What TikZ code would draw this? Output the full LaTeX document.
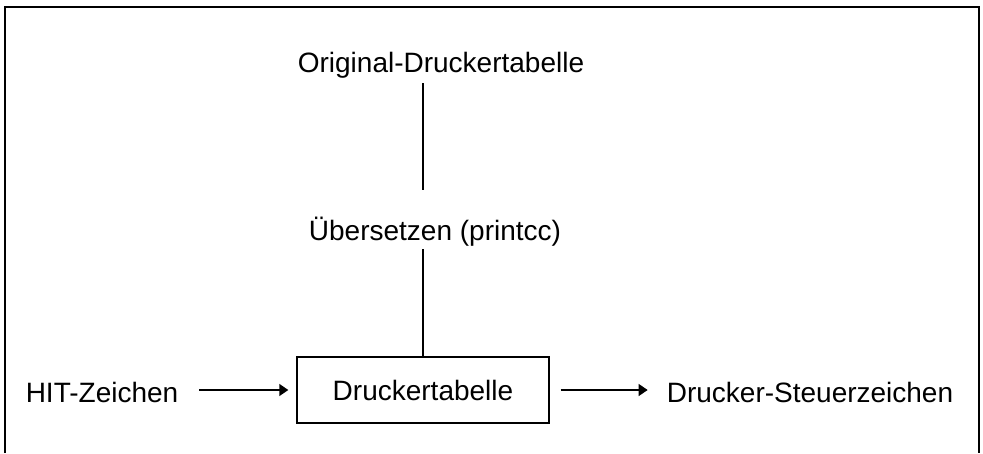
\documentclass[tikz,border=0pt]{standalone}
\usepackage{fontspec}
\setmainfont{Liberation Sans}
\usetikzlibrary{arrows.meta}

\tikzset{
    txt/.style={anchor=base, inner sep=3pt, text height=21pt, text depth=6pt,
        font=\fontsize{28}{34}\selectfont},
    kasten/.style={draw, line width=1.4pt, minimum width=252pt, minimum height=66pt,
        inner sep=0pt, text height=21pt, text depth=0pt, font=\fontsize{28}{34}\selectfont},
    pfeil/.style={line width=1.4pt, -{Triangle[length=9pt,width=12pt]}},
    linie/.style={line width=1.4pt}
}

\begin{document}
\begin{tikzpicture}[x=1pt,y=-1pt]
    \useasboundingbox (0,0) rectangle (983,453);

    % Rahmen (unten offen)
    \draw[line width=1.6pt] (5,453) -- (5,7) -- (979,7) -- (979,453);

    % Texte
    \node[txt] (orig) at (441,72) {Original-Druckertabelle};
    \node[txt] (ueber) at (435,240) {Übersetzen (printcc)};
    \node[kasten] (tab) at (423,390) {Druckertabelle};
    \node[txt] (hit) at (102,402) {HIT-Zeichen};
    \node[txt] (steuer) at (810,402) {Drucker-Steuerzeichen};

    % senkrechte Linien
    \draw[linie, shorten <=2pt, shorten >=26pt] (tab.north |- orig.south) -- (tab.north |- ueber.north);
    \draw[linie] (tab.north |- ueber.south) -- (tab.north);

    % Pfeile
    \draw[pfeil, shorten <=18pt, shorten >=8pt] (tab.west -| hit.east) -- (tab.west);
    \draw[pfeil, shorten <=11pt, shorten >=16pt] (tab.east) -- (tab.east -| steuer.west);
\end{tikzpicture}
\end{document}
